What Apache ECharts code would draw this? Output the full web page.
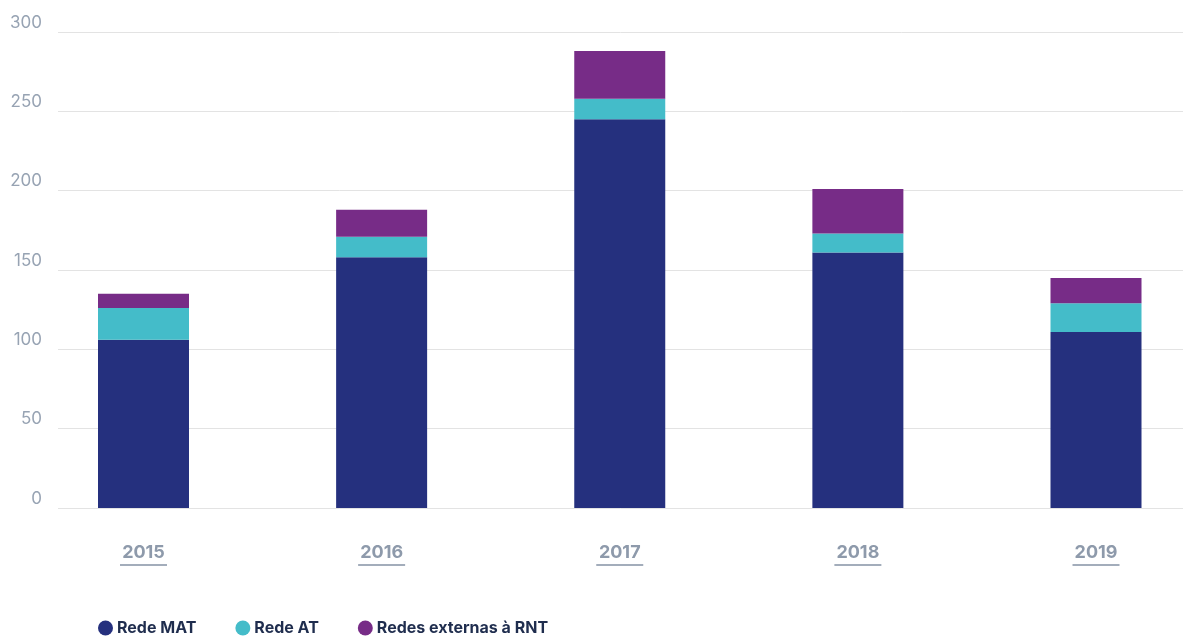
<!DOCTYPE html>
<html>
<head>
<meta charset="utf-8">
<script src="https://cdn.jsdelivr.net/npm/echarts@6/dist/echarts.min.js"></script>
<style>
  html, body { margin: 0; padding: 0; background: #fff; }
  #chart { width: 1183px; height: 637px; }
</style>
</head>
<body>
<div id="chart"></div>
<script>
// anos
const years = ['2015', '2016', '2017', '2018', '2019'];
// valores
const redeMAT = [106, 158, 245, 161, 111];
const redeAT = [20, 13, 13, 12, 18];
const redesExternas = [9, 17, 30, 28, 16];
const yTicks = [0, 50, 100, 150, 200, 250, 300];

const colors = ['#25307e', '#44bcc9', '#772c87'];
const labelColor = '#97a3b3';

const chart = echarts.init(document.getElementById('chart'));

const mkSeries = (name, data, i) => ({
  name: name,
  type: 'bar',
  stack: 'total',
  xAxisIndex: 1,
  yAxisIndex: 1,
  barWidth: 91,
  clip: false,
  data: data,
  itemStyle: { color: colors[i] },
});

const option = {
  textStyle: { fontFamily: 'Inter, Roboto, sans-serif' },
  animation: false,
  grid: [
    // grelha só para as linhas horizontais
    { left: 58, right: 0, top: 32, bottom: 129 },
    // grelha das barras (categorias nos ticks)
    { left: 143.5, right: 87, top: 32, bottom: 129 },
  ],
  legend: {
    left: 98,
    bottom: 1,
    padding: 0,
    icon: 'circle',
    itemWidth: 15,
    itemHeight: 15,
    itemGap: 39,
    textStyle: {
      color: '#1f2d4e',
      fontSize: 16,
      fontWeight: 'bold',
      padding: [2, 0, 0, -1],
    },
    data: ['Rede MAT', 'Rede AT', 'Redes externas à RNT'],
  },
  xAxis: [
    { gridIndex: 0, type: 'category', data: years, show: false },
    {
      gridIndex: 1,
      type: 'category',
      data: years,
      boundaryGap: false,
      axisLine: { show: false },
      axisTick: { show: false },
      splitLine: { show: false },
      axisLabel: {
        margin: 34,
        formatter: (v) => '{a|' + v + '}\n{u|}',
        rich: {
          a: { color: '#8e9aab', fontSize: 18, fontWeight: 'bold', lineHeight: 22 },
          u: { width: 47, height: 2, backgroundColor: '#a3adbb' },
        },
      },
    },
  ],
  yAxis: [
    {
      gridIndex: 0,
      type: 'value',
      min: yTicks[0],
      max: yTicks[yTicks.length - 1],
      interval: 50,
      axisLine: { show: false },
      axisTick: { show: false },
      splitLine: { lineStyle: { color: '#e3e3e3', width: 1 } },
      axisLabel: {
        color: labelColor,
        fontSize: 17,
        margin: 16,
        verticalAlign: 'bottom',
        padding: [0, 0, 1, 0],
      },
    },
    {
      gridIndex: 1,
      type: 'value',
      min: yTicks[0],
      max: yTicks[yTicks.length - 1],
      interval: 50,
      show: false,
    },
  ],
  series: [
    mkSeries('Rede MAT', redeMAT, 0),
    mkSeries('Rede AT', redeAT, 1),
    mkSeries('Redes externas à RNT', redesExternas, 2),
  ],
};

chart.setOption(option);
</script>
</body>
</html>
